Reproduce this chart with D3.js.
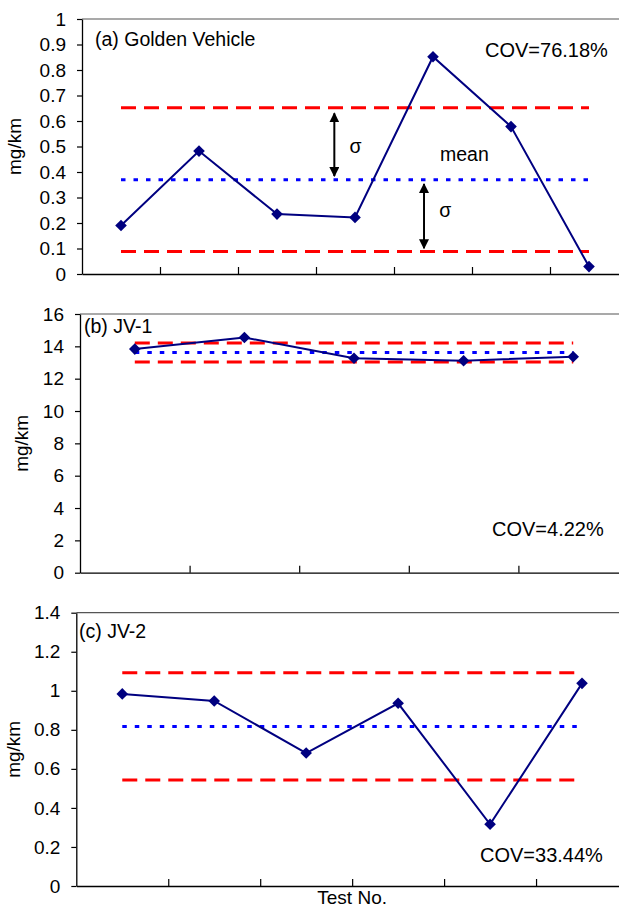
<!DOCTYPE html>
<html>
<head>
<meta charset="utf-8">
<script src="https://cdn.jsdelivr.net/npm/d3@7"></script>
<style>
  body { margin: 0; background: #fff; }
  svg { display: block; font-family: "Liberation Sans", Arial, sans-serif; }
</style>
</head>
<body>
<div id="chart"></div>
<script>
// values (mg/km per test)
const goldenValues = [0.19, 0.482, 0.235, 0.222, 0.852, 0.578, 0.029];
const jv1Values = [13.83, 14.55, 13.26, 13.11, 13.36];
const jv2Values = [0.984, 0.948, 0.681, 0.936, 0.316, 1.038];

const goldenTicks = [0, 0.1, 0.2, 0.3, 0.4, 0.5, 0.6, 0.7, 0.8, 0.9, 1];
const jv1Ticks = [0, 2, 4, 6, 8, 10, 12, 14, 16];
const jv2Ticks = [0, 0.2, 0.4, 0.6, 0.8, 1, 1.2, 1.4];

const panelTitles = ["(a) Golden Vehicle", "(b) JV-1", "(c) JV-2"];
const covLabels = ["COV=76.18%", "COV=4.22%", "COV=33.44%"];

// sigma arrows in panel (a): [x in test units, from value, to value]
const sigmaArrows = [[3.235, 0.630, 0.384], [4.385, 0.353, 0.101]];
const sigmaTexts = [[3.43, 0.475, "σ"], [4.58, 0.225, "σ"], [4.59, 0.443, "mean"]];

const W = 619, H = 908;
const svg = d3.select("#chart").append("svg")
    .attr("width", W)
    .attr("height", H);

const defs = svg.append("defs");
defs.append("marker")
    .attr("id", "head")
    .attr("viewBox", "0 0 10 10")
    .attr("refX", 9).attr("refY", 5)
    .attr("markerWidth", 5).attr("markerHeight", 5)
    .attr("markerUnits", "strokeWidth")
    .attr("orient", "auto-start-reverse")
    .append("path")
    .attr("d", "M0,0L10,5L0,10Z")
    .attr("fill", "#000");

const panels = [
    { values: goldenValues, ticks: goldenTicks, max: 1, left: 82, top: 19, bottom: 274,
      titleXY: [95, 46], covXY: [485, 56.7], labelX: 21 },
    { values: jv1Values, ticks: jv1Ticks, max: 16, left: 80, top: 314, bottom: 572.7,
      titleXY: [84, 332.7], covXY: [492, 536], labelX: 28 },
    { values: jv2Values, ticks: jv2Ticks, max: 1.4, left: 76.3, top: 612.7, bottom: 886,
      titleXY: [79, 637.7], covXY: [480, 861.7], labelX: 20 }
];
const plotRight = 628;

panels.forEach((p, i) => {
    const n = p.values.length;
    const x = d3.scaleLinear().domain([0, n]).range([p.left, plotRight]);
    const y = d3.scaleLinear().domain([0, p.max]).range([p.bottom, p.top]);
    const g = svg.append("g");

    // frame top
    g.append("line")
        .attr("x1", p.left).attr("x2", plotRight)
        .attr("y1", p.top).attr("y2", p.top)
        .attr("stroke", "#555").attr("stroke-width", 1.2);

    // y axis
    const ya = g.append("g")
        .attr("transform", `translate(${p.left},0)`)
        .call(d3.axisLeft(y).tickValues(p.ticks).tickFormat(d3.format("~g"))
            .tickSize(5).tickSizeOuter(0).tickPadding(11));
    ya.select(".domain").attr("stroke", "#000").attr("stroke-width", 1.3);
    ya.selectAll(".tick line").attr("stroke", "#000").attr("stroke-width", 1.2);
    ya.selectAll("text").attr("font-size", 19).attr("fill", "#000")
        .attr("font-family", "Liberation Sans, Arial, sans-serif");

    // x axis, ticks point inward, no labels
    const xa = g.append("g")
        .attr("transform", `translate(0,${p.bottom})`)
        .call(d3.axisBottom(x).tickValues(d3.range(1, n)).tickFormat("")
            .tickSize(-7).tickSizeOuter(0));
    xa.select(".domain").attr("stroke", "#000").attr("stroke-width", 1.3);
    xa.selectAll(".tick line").attr("stroke", "#000").attr("stroke-width", 1.2);

    // mean and +-sigma lines
    const mean = d3.mean(p.values);
    const sd = d3.deviation(p.values);
    const x0 = x(0.5), x1 = x(n - 0.5);
    [mean + sd, mean - sd].forEach(v => {
        g.append("line")
            .attr("x1", x0).attr("x2", x1)
            .attr("y1", y(v)).attr("y2", y(v))
            .attr("stroke", "#ff0000").attr("stroke-width", 3)
            .attr("stroke-dasharray", "15,8");
    });
    g.append("line")
        .attr("x1", x0).attr("x2", x1)
        .attr("y1", y(mean)).attr("y2", y(mean))
        .attr("stroke", "#0000ff").attr("stroke-width", 3)
        .attr("stroke-dasharray", "4.5,8");

    // data line
    const line = d3.line().x((d, j) => x(j + 0.5)).y(d => y(d));
    g.append("path")
        .datum(p.values)
        .attr("d", line)
        .attr("fill", "none")
        .attr("stroke", "#000080")
        .attr("stroke-width", 2);

    g.selectAll(".pt")
        .data(p.values)
        .enter().append("path")
        .attr("class", "pt")
        .attr("transform", (d, j) => `translate(${x(j + 0.5)},${y(d)})`)
        .attr("d", "M0,-5.8L5.8,0L0,5.8L-5.8,0Z")
        .attr("fill", "#000080");

    // texts
    g.append("text")
        .attr("x", p.titleXY[0]).attr("y", p.titleXY[1])
        .attr("font-size", 19.5)
        .text(panelTitles[i]);
    g.append("text")
        .attr("x", p.covXY[0]).attr("y", p.covXY[1])
        .attr("font-size", 20)
        .text(covLabels[i]);
    g.append("text")
        .attr("transform", `translate(${p.labelX},${(p.top + p.bottom) / 2}) rotate(-90)`)
        .attr("text-anchor", "middle")
        .attr("font-size", 19)
        .text("mg/km");

    if (i === 0) {
        sigmaArrows.forEach(a => {
            g.append("line")
                .attr("x1", x(a[0])).attr("x2", x(a[0]))
                .attr("y1", y(a[1])).attr("y2", y(a[2]))
                .attr("stroke", "#000").attr("stroke-width", 2)
                .attr("marker-start", "url(#head)")
                .attr("marker-end", "url(#head)");
        });
        sigmaTexts.forEach(t => {
            g.append("text")
                .attr("x", x(t[0])).attr("y", y(t[1]))
                .attr("font-size", 19.5)
                .text(t[2]);
        });
    }
    if (i === 2) {
        g.append("text")
            .attr("x", (p.left + plotRight) / 2).attr("y", 904)
            .attr("text-anchor", "middle")
            .attr("font-size", 19)
            .text("Test No.");
    }
});
</script>
</body>
</html>
